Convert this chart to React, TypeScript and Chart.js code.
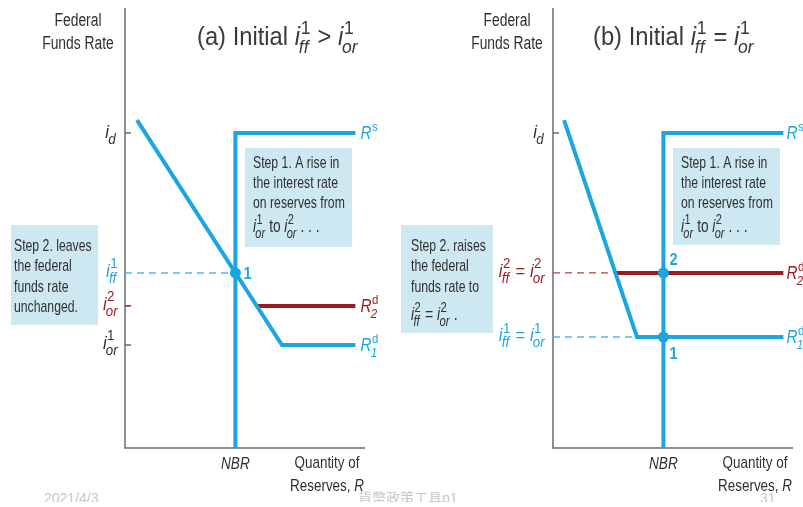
import React, { useEffect, useRef } from "react";
import { Chart, registerables } from "chart.js";

Chart.register(...registerables);

// ---------- data (chart units: x = quantity of reserves 0..100, y = rate 0..100) ----------
// Panel (a): initial i_ff^1 > i_or^1
const A_RATES = [71.6, 39.8, 32.3, 23.4]; // i_d, i_ff^1, i_or^2, i_or^1
const A_NBR = 46;
const A_SUPPLY_X = [46, 46, 96];
const A_SUPPLY_Y = [0, 71.6, 71.6];
const A_DEMAND1_X = [5, 65.4, 96];
const A_DEMAND1_Y = [74.5, 23.4, 23.4];
const A_DEMAND2_X = [54.9, 96];
const A_DEMAND2_Y = [32.3, 32.3];
const A_DASH_X = [0, 46];
const A_DASH_Y = [39.8, 39.8];
const A_EQ_X = [46];
const A_EQ_Y = [39.8];

// Panel (b): initial i_ff^1 = i_or^1
const B_RATES = [71.6, 39.8, 25.2]; // i_d, i_ff^2 = i_or^2, i_ff^1 = i_or^1
const B_NBR = 46;
const B_SUPPLY_X = [46, 46, 96];
const B_SUPPLY_Y = [0, 71.6, 71.6];
const B_DEMAND1_X = [4.6, 35, 96];
const B_DEMAND1_Y = [74.5, 25.2, 25.2];
const B_DEMAND2_X = [26, 96];
const B_DEMAND2_Y = [39.8, 39.8];
const B_DASH_RED_X = [0, 26];
const B_DASH_RED_Y = [39.8, 39.8];
const B_DASH_BLUE_X = [0, 35];
const B_DASH_BLUE_Y = [25.2, 25.2];
const B_EQ_X = [46, 46];
const B_EQ_Y = [39.8, 25.2];

const STEP1_LINES = ["Step 1. A rise in", "the interest rate", "on reserves from"];
const STEP2A_LINES = ["Step 2. leaves", "the federal", "funds rate", "unchanged."];
const STEP2B_LINES = ["Step 2. raises", "the federal", "funds rate to"];

// ---------- styles ----------
const BLUE = "#1ba6e0";
const BLUE_DASH = "#4dbbe9";
const RED = "#9b1b1f";
const RED_DASH = "#b0453f";
const TEXT = "#303030";
const AXIS = "#6b6b6b";
const BOX = "#cde8f1";
const FAM = '"Liberation Sans", Arial, Helvetica, sans-serif';

type Part = { t: string; it?: boolean; bold?: boolean; sup?: string; sub?: string; color?: string };

const fnt = (size: number, it?: boolean, bold?: boolean) =>
  `${it ? "italic " : ""}${bold ? "bold " : ""}${size}px ${FAM}`;

function partWidth(ctx: CanvasRenderingContext2D, p: Part, size: number, ss: number) {
  ctx.font = fnt(size, p.it, p.bold);
  let w = ctx.measureText(p.t).width;
  if (p.sup || p.sub) {
    const s = size * ss;
    let w1 = 0;
    let w2 = 0;
    if (p.sup) {
      ctx.font = fnt(s);
      w1 = ctx.measureText(p.sup).width;
    }
    if (p.sub) {
      ctx.font = fnt(s, true);
      w2 = ctx.measureText(p.sub).width - size * 0.08;
    }
    w += Math.max(w1, w2) + size * 0.05;
  }
  return w;
}

function drawRich(
  ctx: CanvasRenderingContext2D,
  parts: Part[],
  x: number,
  y: number,
  opt: { size: number; sx?: number; align?: "left" | "right" | "center"; color: string; ss?: number }
) {
  const sx = opt.sx ?? 1;
  const ss = opt.ss ?? 0.78;
  const total = parts.reduce((a, p) => a + partWidth(ctx, p, opt.size, ss), 0) * sx;
  let x0 = x;
  if (opt.align === "right") x0 = x - total;
  else if (opt.align === "center") x0 = x - total / 2;
  ctx.save();
  ctx.translate(x0, y);
  ctx.scale(sx, 1);
  ctx.textBaseline = "alphabetic";
  ctx.textAlign = "left";
  let cx = 0;
  for (const p of parts) {
    ctx.fillStyle = p.color ?? opt.color;
    ctx.font = fnt(opt.size, p.it, p.bold);
    ctx.fillText(p.t, cx, 0);
    let w = ctx.measureText(p.t).width;
    if (p.sup || p.sub) {
      const s = opt.size * ss;
      const sxs = cx + w + opt.size * 0.03;
      let w1 = 0;
      let w2 = 0;
      if (p.sup) {
        ctx.font = fnt(s);
        ctx.fillText(p.sup, sxs, -opt.size * 0.45);
        w1 = ctx.measureText(p.sup).width;
      }
      if (p.sub) {
        ctx.font = fnt(s, true);
        ctx.fillText(p.sub, sxs - opt.size * 0.08, opt.size * 0.32);
        w2 = ctx.measureText(p.sub).width - opt.size * 0.08;
      }
      w += Math.max(w1, w2) + opt.size * 0.05;
    }
    cx += w;
  }
  ctx.restore();
}

const I = (sup?: string, sub?: string, color?: string): Part => ({ t: "i", it: true, sup, sub, color });

const lineDs = (xs: number[], ys: number[], color: string, width: number, dash: number[] = []) => ({
  data: xs.map((x, i) => ({ x, y: ys[i] })),
  showLine: true,
  borderColor: color,
  backgroundColor: color,
  borderWidth: width,
  borderDash: dash,
  borderCapStyle: "butt",
  borderJoinStyle: "miter",
  pointRadius: 0,
  pointHoverRadius: 0,
  fill: false,
  tension: 0,
  clip: false,
});

const pointDs = (xs: number[], ys: number[]) => ({
  data: xs.map((x, i) => ({ x, y: ys[i] })),
  showLine: false,
  pointRadius: 5.5,
  pointHoverRadius: 5.5,
  pointBackgroundColor: BLUE,
  pointBorderWidth: 0,
  borderColor: BLUE,
  clip: false,
});

function axesPlugin(ticks: { v: number; color: string }[]) {
  return {
    id: "axes",
    beforeDatasetsDraw(chart: any) {
      const ctx: CanvasRenderingContext2D = chart.ctx;
      const xs = chart.scales.x;
      const ys = chart.scales.y;
      const x0 = xs.getPixelForValue(0);
      const y0 = ys.getPixelForValue(0);
      ctx.save();
      ctx.strokeStyle = AXIS;
      ctx.lineWidth = 1.5;
      ctx.beginPath();
      ctx.moveTo(x0, ys.getPixelForValue(100));
      ctx.lineTo(x0, y0);
      ctx.lineTo(xs.getPixelForValue(100), y0);
      ctx.stroke();
      for (const t of ticks) {
        const py = ys.getPixelForValue(t.v);
        ctx.strokeStyle = t.color;
        ctx.beginPath();
        ctx.moveTo(x0, py);
        ctx.lineTo(x0 + 6, py);
        ctx.stroke();
      }
      ctx.restore();
    },
  };
}

function box(ctx: CanvasRenderingContext2D, x: number, y: number, w: number, h: number) {
  ctx.fillStyle = BOX;
  ctx.fillRect(x, y, w, h);
}

const BOXFONT = { size: 17, sx: 0.72, color: TEXT };

function textLines(ctx: CanvasRenderingContext2D, lines: string[], x: number, y0: number, step: number) {
  lines.forEach((l, i) => drawRich(ctx, [{ t: l }], x, y0 + i * step, BOXFONT));
}

function commonLabels(chart: any, opts: { fedX: number; qX: number; title: Part[]; titleX: number; nbr: number }) {
  const ctx: CanvasRenderingContext2D = chart.ctx;
  const xs = chart.scales.x;
  drawRich(ctx, [{ t: "Federal" }], opts.fedX, 26, { size: 18, sx: 0.77, align: "center", color: TEXT });
  drawRich(ctx, [{ t: "Funds Rate" }], opts.fedX, 49, { size: 18, sx: 0.77, align: "center", color: TEXT });
  drawRich(ctx, opts.title, opts.titleX, 45, { size: 25, sx: 0.95, color: "#3a3a3a", ss: 0.74 });
  drawRich(ctx, [{ t: "NBR", it: true }], xs.getPixelForValue(opts.nbr), 469, { size: 17, sx: 0.8, align: "center", color: TEXT });
  drawRich(ctx, [{ t: "Quantity of" }], opts.qX, 468, { size: 17, sx: 0.79, align: "center", color: TEXT });
  drawRich(ctx, [{ t: "Reserves, " }, { t: "R", it: true }], opts.qX, 491, { size: 17, sx: 0.79, align: "center", color: TEXT });
}

const annotA = {
  id: "annotA",
  afterDatasetsDraw(chart: any) {
    const ctx: CanvasRenderingContext2D = chart.ctx;
    const xs = chart.scales.x;
    const ys = chart.scales.y;
    const ax = xs.getPixelForValue(0);
    const endX = xs.getPixelForValue(A_SUPPLY_X[2]) + 5;
    commonLabels(chart, {
      fedX: 78,
      qX: 327,
      titleX: 197,
      nbr: A_NBR,
      title: [{ t: "(a) Initial " }, I("1", "ff"), { t: " > " }, I("1", "or")],
    });
    box(ctx, 245, 148, 107, 99);
    textLines(ctx, STEP1_LINES, 253, 168, 20);
    drawRich(ctx, [I("1", "or"), { t: " to " }, I("2", "or"), { t: " . . ." }], 253, 232, { size: 18, sx: 0.76, color: TEXT, ss: 0.8 });
    box(ctx, 11, 225, 87, 100);
    textLines(ctx, STEP2A_LINES, 14, 251, 20.3);
    const lab = { size: 19, sx: 0.88, align: "right" as const, ss: 0.8 };
    drawRich(ctx, [I(undefined, "d")], ax - 9, ys.getPixelForValue(A_RATES[0]) + 5, { ...lab, color: TEXT });
    drawRich(ctx, [I("1", "ff")], ax - 7, ys.getPixelForValue(A_RATES[1]) + 4, { ...lab, color: BLUE });
    drawRich(ctx, [I("2", "or")], ax - 7, ys.getPixelForValue(A_RATES[2]) + 4, { ...lab, color: RED });
    drawRich(ctx, [I("1", "or")], ax - 7, ys.getPixelForValue(A_RATES[3]) + 4, { ...lab, color: TEXT });
    drawRich(ctx, [{ t: "1", bold: true }], xs.getPixelForValue(A_EQ_X[0]) + 8, ys.getPixelForValue(A_EQ_Y[0]) + 6, { size: 17, sx: 0.85, color: BLUE });
    const cl = { size: 18, sx: 0.85, ss: 0.75 };
    drawRich(ctx, [{ t: "R", it: true, sup: "s" }], endX, ys.getPixelForValue(A_SUPPLY_Y[2]) + 6, { ...cl, color: BLUE });
    drawRich(ctx, [{ t: "R", it: true, sup: "d", sub: "2" }], endX, ys.getPixelForValue(A_DEMAND2_Y[1]) + 6, { ...cl, color: RED });
    drawRich(ctx, [{ t: "R", it: true, sup: "d", sub: "1" }], endX, ys.getPixelForValue(A_DEMAND1_Y[2]) + 6, { ...cl, color: BLUE });
  },
};

const annotB = {
  id: "annotB",
  afterDatasetsDraw(chart: any) {
    const ctx: CanvasRenderingContext2D = chart.ctx;
    const xs = chart.scales.x;
    const ys = chart.scales.y;
    const ax = xs.getPixelForValue(0);
    const endX = xs.getPixelForValue(B_SUPPLY_X[2]) + 3;
    commonLabels(chart, {
      fedX: 107,
      qX: 355,
      titleX: 193,
      nbr: B_NBR,
      title: [{ t: "(b) Initial " }, I("1", "ff"), { t: " = " }, I("1", "or")],
    });
    box(ctx, 273, 148, 107, 97);
    textLines(ctx, STEP1_LINES, 281, 168, 20);
    drawRich(ctx, [I("1", "or"), { t: " to " }, I("2", "or"), { t: " . . ." }], 281, 232, { size: 18, sx: 0.76, color: TEXT, ss: 0.8 });
    box(ctx, 1, 225, 92, 108);
    textLines(ctx, STEP2B_LINES, 11, 251, 20.3);
    drawRich(ctx, [I("2", "ff"), { t: " = " }, I("2", "or"), { t: " ." }], 11, 320, { size: 18, sx: 0.78, color: TEXT, ss: 0.8 });
    const lab = { size: 19, sx: 0.88, align: "right" as const, ss: 0.8 };
    drawRich(ctx, [I(undefined, "d")], ax - 9, ys.getPixelForValue(B_RATES[0]) + 5, { ...lab, color: TEXT });
    drawRich(ctx, [I("2", "ff"), { t: " = " }, I("2", "or")], ax - 8, ys.getPixelForValue(B_RATES[1]) + 4, { ...lab, color: RED });
    drawRich(ctx, [I("1", "ff"), { t: " = " }, I("1", "or")], ax - 8, ys.getPixelForValue(B_RATES[2]) + 4, { ...lab, color: BLUE });
    drawRich(ctx, [{ t: "2", bold: true }], xs.getPixelForValue(B_EQ_X[0]) + 6, ys.getPixelForValue(B_EQ_Y[0]) - 8, { size: 17, sx: 0.85, color: BLUE });
    drawRich(ctx, [{ t: "1", bold: true }], xs.getPixelForValue(B_EQ_X[1]) + 6, ys.getPixelForValue(B_EQ_Y[1]) + 22, { size: 17, sx: 0.85, color: BLUE });
    const cl = { size: 18, sx: 0.85, ss: 0.75 };
    drawRich(ctx, [{ t: "R", it: true, sup: "s" }], endX, ys.getPixelForValue(B_SUPPLY_Y[2]) + 6, { ...cl, color: BLUE });
    drawRich(ctx, [{ t: "R", it: true, sup: "d", sub: "2" }], endX, ys.getPixelForValue(B_DEMAND2_Y[1]) + 6, { ...cl, color: RED });
    drawRich(ctx, [{ t: "R", it: true, sup: "d", sub: "1" }], endX, ys.getPixelForValue(B_DEMAND1_Y[2]) + 6, { ...cl, color: BLUE });
  },
};

function makeChart(canvas: HTMLCanvasElement, datasets: any[], padding: any, plugins: any[]) {
  return new Chart(canvas, {
    type: "scatter",
    data: { datasets },
    options: {
      animation: false,
      responsive: false,
      events: [],
      layout: { padding },
      plugins: { legend: { display: false }, tooltip: { enabled: false } },
      scales: {
        x: { type: "linear", min: 0, max: 100, display: false },
        y: { type: "linear", min: 0, max: 100, display: false },
      },
    } as any,
    plugins,
  } as any);
}

export default function App() {
  const refA = useRef<HTMLCanvasElement>(null);
  const refB = useRef<HTMLCanvasElement>(null);

  useEffect(() => {
    document.body.style.margin = "0";
    const a = makeChart(
      refA.current!,
      [
        pointDs(A_EQ_X, A_EQ_Y),
        lineDs(A_SUPPLY_X, A_SUPPLY_Y, BLUE, 4),
        lineDs(A_DEMAND1_X, A_DEMAND1_Y, BLUE, 4),
        lineDs(A_DEMAND2_X, A_DEMAND2_Y, RED, 4),
        lineDs(A_DASH_X, A_DASH_Y, BLUE_DASH, 1.5, [7, 5]),
      ],
      { left: 125, right: 35, top: 8, bottom: 59 },
      [
        axesPlugin([
          { v: A_RATES[0], color: AXIS },
          { v: A_RATES[2], color: RED },
          { v: A_RATES[3], color: AXIS },
        ]),
        annotA,
      ]
    );
    const b = makeChart(
      refB.current!,
      [
        pointDs(B_EQ_X, B_EQ_Y),
        lineDs(B_SUPPLY_X, B_SUPPLY_Y, BLUE, 4),
        lineDs(B_DEMAND1_X, B_DEMAND1_Y, BLUE, 4),
        lineDs(B_DEMAND2_X, B_DEMAND2_Y, RED, 4),
        lineDs(B_DASH_RED_X, B_DASH_RED_Y, RED_DASH, 1.2, [7, 5]),
        lineDs(B_DASH_BLUE_X, B_DASH_BLUE_Y, BLUE_DASH, 1.5, [7, 5]),
      ],
      { left: 153, right: 10, top: 8, bottom: 59 },
      [axesPlugin([{ v: B_RATES[0], color: AXIS }]), annotB]
    );
    return () => {
      a.destroy();
      b.destroy();
    };
  }, []);

  const foot: React.CSSProperties = {
    position: "absolute",
    top: 491,
    height: 11,
    overflow: "hidden",
    fontFamily: '"Liberation Sans", "Noto Sans CJK TC", sans-serif',
    fontSize: 14,
    lineHeight: "14px",
    color: "#c8c8c8",
    whiteSpace: "nowrap",
  };

  return (
    <div style={{ position: "fixed", left: 0, top: 0, width: 803, height: 507, background: "#fff", overflow: "hidden" }}>
      <div style={{ ...foot, left: 44 }}>2021/4/3</div>
      <div style={{ ...foot, left: 358 }}>貨幣政策工具p1</div>
      <div style={{ ...foot, left: 760 }}>31</div>
      <canvas ref={refA} width={400} height={507} style={{ position: "absolute", left: 0, top: 0, width: 400, height: 507 }} />
      <canvas ref={refB} width={403} height={507} style={{ position: "absolute", left: 400, top: 0, width: 403, height: 507 }} />
    </div>
  );
}
